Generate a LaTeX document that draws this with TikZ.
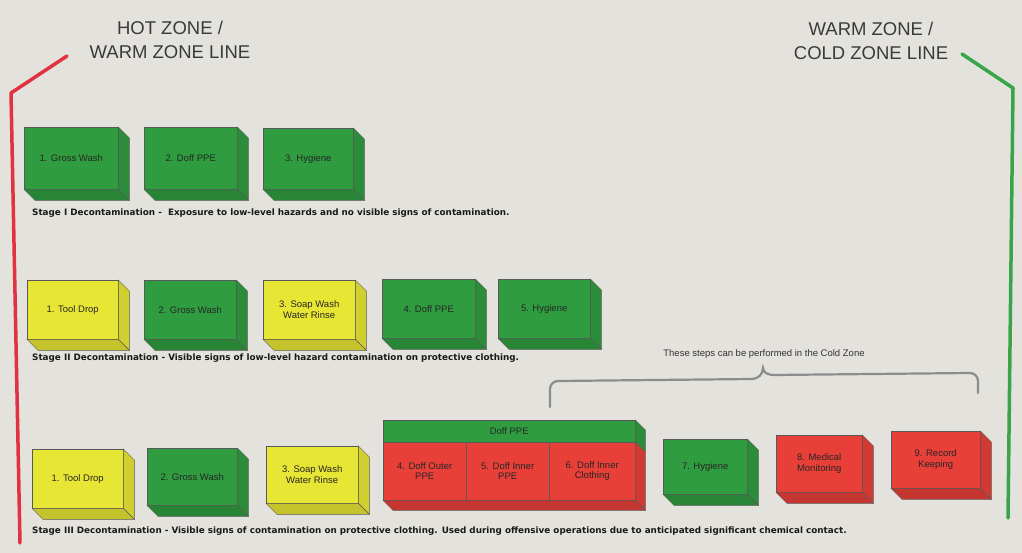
\documentclass[tikz,border=0pt]{standalone}
\usepackage{fontspec}
\setmainfont{Liberation Sans}
\newfontfamily\capfont{DejaVu Sans}
\usetikzlibrary{calc}
\definecolor{bg}{RGB}{228,226,221}
\definecolor{gbox}{RGB}{48,156,64}
\definecolor{ybox}{RGB}{232,230,52}
\definecolor{rbox}{RGB}{232,64,56}
\definecolor{zred}{RGB}{226,50,66}
\definecolor{zgreen}{RGB}{58,164,74}
\definecolor{titlec}{RGB}{58,58,58}
\newcommand\dep{11}
\newcommand\cuboid[7]{%
  \node[face, fill=#6, minimum width=#4, minimum height=#5, anchor=north west] (#1) at (#2,#3) {#7};
  \draw[edge, fill=#6!90!black] (#1.north east) -- ++(\dep,\dep) -- ($(#1.south east)+(\dep,\dep)$) -- (#1.south east) -- cycle;
  \draw[edge, fill=#6!85!black] (#1.south west) -- (#1.south east) -- ++(\dep,\dep) -- ($(#1.south west)+(\dep,\dep)$) -- cycle;
}
\begin{document}
\begin{tikzpicture}[x=1pt,y=-1pt,
  face/.style={draw=black!65, line width=0.4pt, inner sep=1pt, align=center,
    font=\fontsize{9.5}{10.5}\selectfont, text=black!85},
  edge/.style={draw=black!65, line width=0.4pt},
  caption/.style={anchor=west, inner sep=0pt, font=\capfont\bfseries\fontsize{8.8}{10}\selectfont, text=black!90},
  title/.style={inner sep=0pt, align=center, font=\fontsize{18.5}{24}\selectfont, text=titlec},
  zoneline/.style={line width=3.5pt, line cap=round, line join=round},
  bracepath/.style={draw=black!45, line width=2.2pt, line cap=round}]
\useasboundingbox (0,0) rectangle (1022,553);
\fill[bg] (0,0) rectangle (1022,553);

% zone lines
\coordinate (rl1) at (67,56); \coordinate (rl2) at (11,93); \coordinate (rl3) at (20,543);
\draw[zoneline, zred] (rl1) -- (rl2) -- (rl3);
\coordinate (gl1) at (962,54); \coordinate (gl2) at (1013,88); \coordinate (gl3) at (1008,518);
\draw[zoneline, zgreen] (gl1) -- (gl2) -- (gl3);

% titles
\node[title] (t1) at (170,40) {HOT ZONE /\\WARM ZONE LINE};
\node[title] (t2) at (871,41) {WARM ZONE /\\COLD ZONE LINE};

% Stage I
\cuboid{a1}{24}{127}{94}{62}{gbox}{1. Gross Wash}
\cuboid{a2}{144}{127}{93}{62}{gbox}{2. Doff PPE}
\cuboid{a3}{263}{128}{90}{61}{gbox}{3. Hygiene}
\node[caption] (c1) at (32,213) {Stage I Decontamination -\ \ Exposure to low-level hazards and no visible signs of contamination.};

% Stage II
\cuboid{b1}{27}{280}{91}{59}{ybox}{1. Tool Drop}
\cuboid{b2}{144}{280}{92}{59}{gbox}{2. Gross Wash}
\cuboid{b3}{263}{280}{92}{59}{ybox}{3. Soap Wash\\Water Rinse}
\cuboid{b4}{382}{279}{93}{59}{gbox}{4. Doff PPE}
\cuboid{b5}{498}{279}{92}{59}{gbox}{5. Hygiene}
\node[caption] (c2) at (32,358) {Stage II Decontamination - Visible signs of low-level hazard contamination on protective clothing.};

% brace
\node[inner sep=0pt, font=\fontsize{9.5}{10}\selectfont, text=black!80] (bt) at (764,354) {These steps can be performed in the Cold Zone};
\coordinate (bl) at (550,407);
\coordinate (bp) at (763,368);
\coordinate (br) at (978,393);
\draw[bracepath] (bl) -- (550,389) to[out=90,in=180] (558,381) -- (752,379) to[out=0,in=-90] (bp)
  to[out=-90,in=180] (774,375) -- (970,373) to[out=0,in=90] (978,381) -- (br);

% Stage III
\cuboid{d1}{32}{449}{91}{59}{ybox}{1. Tool Drop}
\cuboid{d2}{147}{448}{90}{57}{gbox}{2. Gross Wash}
\cuboid{d3}{266}{446}{92}{57}{ybox}{3. Soap Wash\\Water Rinse}

% combined Doff PPE box
\node[face, fill=gbox, minimum width=252, minimum height=22, anchor=north west] (dp) at (383,420) {Doff PPE};
\node[face, fill=rbox, minimum width=83, minimum height=58, anchor=north west] (d4) at (383,442) {4. Doff Outer\\PPE};
\node[face, fill=rbox, minimum width=83, minimum height=58, anchor=north west] (d5) at (466,442) {5. Doff Inner\\PPE};
\node[face, fill=rbox, minimum width=86, minimum height=58, anchor=north west] (d6) at (549,442) {6. Doff Inner\\Clothing};
\draw[edge, fill=gbox!90!black] (dp.north east) -- ++(10,10) -- ($(dp.south east)+(10,10)$) -- (dp.south east) -- cycle;
\draw[edge, fill=rbox!90!black] (d6.north east) -- ($(d6.north east)+(10,10)$) -- ($(d6.south east)+(10,10)$) -- (d6.south east) -- cycle;
\draw[edge, fill=rbox!85!black] (d4.south west) -- (d6.south east) -- ++(10,10) -- ($(d4.south west)+(10,10)$) -- cycle;

\cuboid{d7}{663}{439}{84}{55}{gbox}{7. Hygiene}
\cuboid{d8}{776}{435}{86}{57}{rbox}{8. Medical\\Monitoring}
\cuboid{d9}{891}{431}{89}{57}{rbox}{9. Record\\Keeping}
\node[caption] (c3) at (32,531) {Stage III Decontamination - Visible signs of contamination on protective clothing. Used during offensive operations due to anticipated significant chemical contact.};
\end{tikzpicture}
\end{document}
